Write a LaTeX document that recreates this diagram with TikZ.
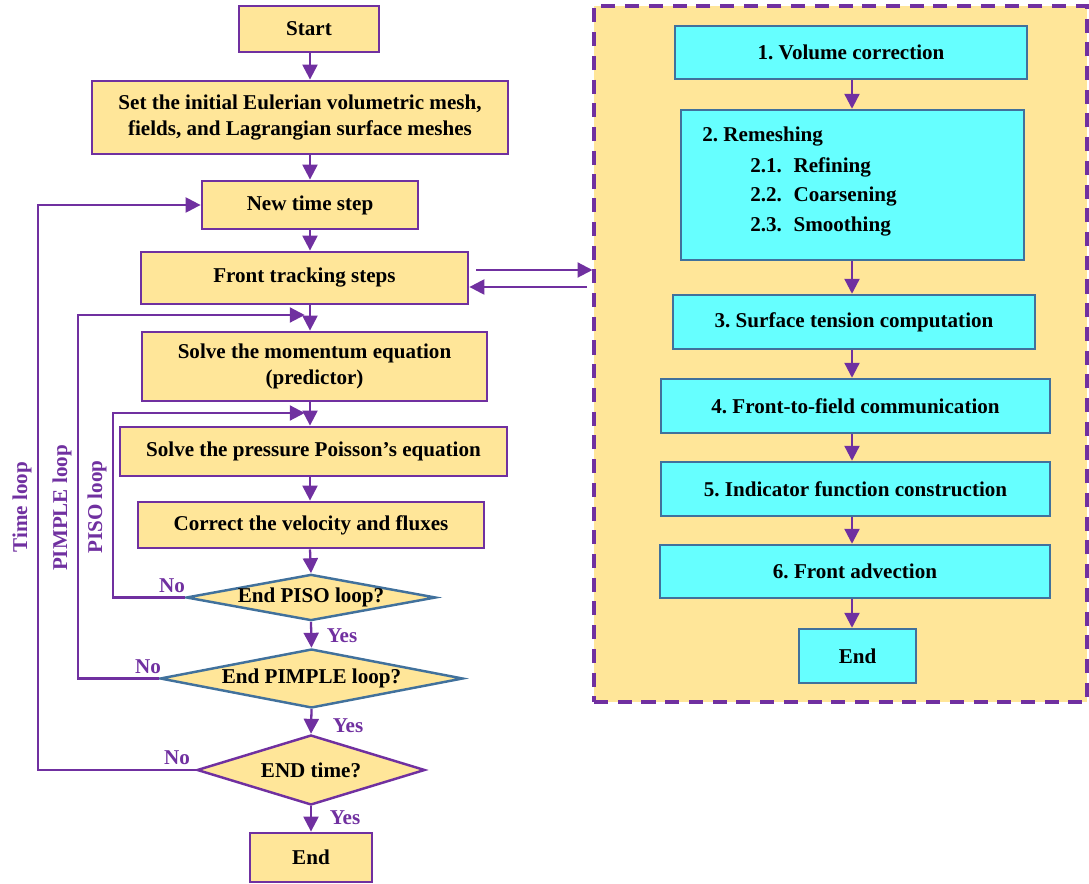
\documentclass[tikz,border=0pt]{standalone}
\usepackage{fontspec}
\setmainfont{Liberation Serif}
\usetikzlibrary{shapes.geometric,arrows.meta}
\definecolor{pur}{HTML}{7030A0}
\definecolor{yel}{HTML}{FFE699}
\definecolor{cya}{HTML}{66FFFF}
\definecolor{blu}{HTML}{41719C}
\frenchspacing
\tikzset{
  every node/.style={font=\bfseries\fontsize{12}{14.5}\selectfont, inner sep=0pt},
  lbox/.style={draw=pur, line width=1.6pt, fill=yel, align=center},
  rbox/.style={draw=blu, line width=1.4pt, fill=cya, align=center},
  dia/.style={shape=diamond, fill=yel, line width=1.4pt},
  arr/.style={draw=pur, line width=1.3pt, -{Triangle[length=8.5pt,width=8.5pt]}},
  lab/.style={text=pur},
  panel/.style={draw=pur, line width=1.8pt, fill=yel, dash pattern=on 8pt off 5.5pt}
}
\begin{document}
\begin{tikzpicture}[x=0.02cm, y=-0.02cm]
\useasboundingbox (0,0) rectangle (1089,884);
% right panel
\node[panel, minimum width=9.86cm, minimum height=13.92cm] (panel) at (840.5,354) {};
% left column
\node[lbox, minimum width=2.8cm, minimum height=0.92cm] (start) at (309,29) {Start};
\node[lbox, minimum width=8.32cm, minimum height=1.46cm] (init) at (300,117.5) {Set the initial Eulerian volumetric mesh,\\fields, and Lagrangian surface meshes};
\node[lbox, minimum width=4.32cm, minimum height=0.96cm] (newt) at (310,205) {New time step};
\node[lbox, minimum width=6.54cm, minimum height=1.04cm] (front) at (304.5,278) {Front tracking steps};
\node[lbox, minimum width=6.9cm, minimum height=1.38cm] (mom) at (314.5,366.5) {Solve the momentum equation\\(predictor)};
\node[lbox, minimum width=7.74cm, minimum height=0.98cm] (press) at (313.5,451.5) {Solve the pressure Poisson’s equation};
\node[lbox, minimum width=6.92cm, minimum height=0.92cm] (corr) at (311,525) {Correct the velocity and fluxes};
\node[dia, draw=blu, aspect=5.4, minimum width=4.84cm, minimum height=0.9cm] (piso) at (311,597.5) {End PISO loop?};
\node[dia, draw=blu, aspect=5.1, minimum width=6.06cm, minimum height=1.18cm] (pimple) at (311.5,678.5) {End PIMPLE loop?};
\node[dia, draw=pur, aspect=3.3, minimum width=4.56cm, minimum height=1.4cm] (endt) at (311,770) {END time?};
\node[lbox, minimum width=2.44cm, minimum height=0.98cm] (fin) at (311,857.5) {End};
% right column
\node[rbox, minimum width=7.04cm, minimum height=1.06cm] (r1) at (851,52.5) {1. Volume correction};
\node[rbox, minimum width=6.86cm, minimum height=3.0cm] (r2) at (852.5,185) {};
\node[anchor=west] (r2a) at (702,137) {2. Remeshing};
\node[anchor=west] (r2b) at (750,167) {2.1.\hspace{0.55em}Refining};
\node[anchor=west] (r2c) at (750,197) {2.2.\hspace{0.55em}Coarsening};
\node[anchor=west] (r2d) at (750,227) {2.3.\hspace{0.55em}Smoothing};
\node[rbox, minimum width=7.24cm, minimum height=1.08cm] (r3) at (854,322) {3. Surface tension computation};
\node[rbox, minimum width=7.78cm, minimum height=1.08cm] (r4) at (855.5,406) {4. Front-to-field communication};
\node[rbox, minimum width=7.78cm, minimum height=1.08cm] (r5) at (855.5,489) {5. Indicator function construction};
\node[rbox, minimum width=7.8cm, minimum height=1.06cm] (r6) at (855,571.5) {6. Front advection};
\node[rbox, minimum width=2.34cm, minimum height=1.08cm] (rend) at (857.5,656) {End};
% helper coordinates
\coordinate (cx) at (310,0);
\coordinate (rx) at (852,0);
\coordinate (xt) at (38,0);
\coordinate (xp) at (78,0);
\coordinate (xs) at (113,0);
\coordinate (yp) at (0,315);
\coordinate (ys) at (0,413);
\coordinate (ya) at (0,270);
\coordinate (yb) at (0,287);
% main arrows
\draw[arr] (cx |- start.south) -- (cx |- init.north);
\draw[arr] (cx |- init.south) -- (cx |- newt.north);
\draw[arr] (cx |- newt.south) -- (cx |- front.north);
\draw[arr] (cx |- front.south) -- (cx |- mom.north);
\draw[arr] (cx |- mom.south) -- (cx |- press.north);
\draw[arr] (cx |- press.south) -- (cx |- corr.north);
\draw[arr] (cx |- corr.south) -- (piso.north);
\draw[arr] (piso.south) -- (pimple.north);
\draw[arr] (pimple.south) -- (endt.north);
\draw[arr] (endt.south) -- (fin.north);
% yes labels
\node[lab] (y1) at (342,636) {Yes};
\node[lab] (y2) at (348,726) {Yes};
\node[lab] (y3) at (345,818) {Yes};
% loops
\draw[arr] (endt.west) -- (xt |- endt.west) -- (xt |- newt.west) -- (newt.west);
\draw[arr, shorten >=3pt] (pimple.west) -- (xp |- pimple.west) -- (xp |- yp) -- (cx |- yp);
\draw[arr, shorten >=3pt] (piso.west) -- (xs |- piso.west) -- (xs |- ys) -- (cx |- ys);
\node[lab] (n1) at (172,586) {No};
\node[lab] (n2) at (148,667) {No};
\node[lab] (n3) at (177,758) {No};
\node[lab, rotate=90] (tl) at (22,507) {Time loop};
\node[lab, rotate=90] (pl) at (62,508) {PIMPLE loop};
\node[lab, rotate=90] (sl) at (97,507) {PISO loop};
% front <-> panel
\draw[arr, shorten <=4pt] (front.east |- ya) -- (panel.west |- ya);
\draw[arr, shorten <=3pt] (panel.west |- yb) -- (front.east |- yb);
% right arrows
\draw[arr] (rx |- r1.south) -- (rx |- r2.north);
\draw[arr] (rx |- r2.south) -- (rx |- r3.north);
\draw[arr] (rx |- r3.south) -- (rx |- r4.north);
\draw[arr] (rx |- r4.south) -- (rx |- r5.north);
\draw[arr] (rx |- r5.south) -- (rx |- r6.north);
\draw[arr] (rx |- r6.south) -- (rx |- rend.north);
\end{tikzpicture}
\end{document}
